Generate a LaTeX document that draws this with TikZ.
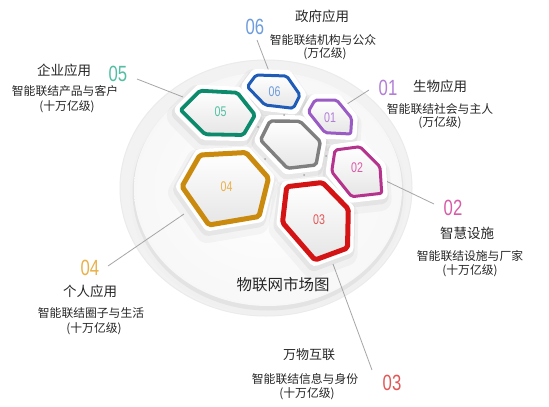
\documentclass[tikz,border=0pt]{standalone}
\usepackage{fontspec}
\setmainfont{Noto Sans CJK SC}
\newfontfamily\numfont[FakeStretch=0.76]{Liberation Sans}
\definecolor{cBlue}{HTML}{1F5CB8}
\definecolor{cTeal}{HTML}{0B8A6C}
\definecolor{cPurple}{HTML}{9A5BC4}
\definecolor{cMag}{HTML}{B5338C}
\definecolor{cGold}{HTML}{C98A0E}
\definecolor{cRed}{HTML}{D41414}
\definecolor{cGray}{HTML}{7F7F7F}
\definecolor{nBlue}{HTML}{6E9CDC}
\definecolor{nTeal}{HTML}{52BFA3}
\definecolor{nPurple}{HTML}{B27ED6}
\definecolor{nMag}{HTML}{D85CA6}
\definecolor{nGold}{HTML}{E9B14A}
\definecolor{nRed}{HTML}{E35656}
\def\hexA{(180.7,110) -- (200,90.7) -- (237.3,92.7) -- (255,115) -- (243.3,135) -- (205,134.3) -- cycle}
\def\hexB{(247.3,86.7) -- (256,75) -- (286.7,76) -- (300,95) -- (293.3,108.3) -- (265,105) -- cycle}
\def\hexC{(308.3,111.7) -- (315,100) -- (336.7,100) -- (351.7,118.3) -- (350.7,134) -- (325,132.7) -- cycle}
\def\hexD{(260.5,140) -- (270,121) -- (300,121.3) -- (320.3,141.5) -- (316,165) -- (287.5,168.3) -- cycle}
\def\hexE{(335,150) -- (360,146.7) -- (380,166.7) -- (381.7,193.3) -- (351.7,196.7) -- (331.7,171.7) -- cycle}
\def\hexF{(182,186.5) -- (200,155) -- (246,152.5) -- (268.5,178) -- (259,216.5) -- (209,225) -- cycle}
\def\hexG{(286.7,186.7) -- (322.5,182.5) -- (348.3,209) -- (347.5,248) -- (315,260) -- (282.5,222.5) -- cycle}
\newcommand\hshadow[1]{%
  \path[fill=black,draw=black,opacity=0.03,line width=24pt,line join=round,shift={(-2,6)}] #1;
  \path[fill=black,draw=black,opacity=0.05,line width=16pt,line join=round,shift={(-1,3)}] #1;}
\newcommand\hplate[1]{\path[fill=white,draw=white,line width=12pt,line join=round] #1;}
\newcommand\hcell[3]{\path[top color=white,bottom color=black!10,draw=#2,line width=#3,rounded corners=2pt,line join=round] #1;}
\tikzset{
  title/.style={font=\fontsize{13.5}{16}\selectfont,inner sep=0pt,text=black!85},
  sub/.style={font=\fontsize{11.8}{14}\selectfont,inner sep=0pt,text=black!85},
  bignum/.style={font=\numfont\fontsize{22}{24}\selectfont,inner sep=0pt},
  smallnum/.style={font=\numfont\fontsize{14}{16}\selectfont,inner sep=0pt},
  lead/.style={draw=black!35,line width=0.8pt},
  dot/.style={fill=black!35,circle,inner sep=0pt,minimum size=2pt}
}
\begin{document}
\begin{tikzpicture}[x=1pt,y=-1pt]
\useasboundingbox (0,0) rectangle (549,407);
\fill[white] (0,0) rectangle (549,407);
% disk
\path[fill=black!5,draw=black!8,line width=1pt] (266,188) ellipse [x radius=146,y radius=128];
\path[fill=black!6] (268,194) ellipse [x radius=138,y radius=121];
\path[fill=black!11] (268,192) ellipse [x radius=135.5,y radius=118.5];
\path[inner color=white,outer color=black!3] (268,189) ellipse [x radius=134,y radius=117];
% connector ends
\coordinate (l6a) at (257,40);  \coordinate (l6b) at (270,74);
\coordinate (l5a) at (137,79);  \coordinate (l5b) at (183,97);
\coordinate (l1a) at (369,90);  \coordinate (l1b) at (344,106);
\coordinate (l2a) at (386,181); \coordinate (l2b) at (434,204);
\coordinate (l4a) at (184,214); \coordinate (l4b) at (108,266);
\coordinate (l3a) at (333,264); \coordinate (l3b) at (372,370);
\draw[lead] (l6a) -- (l6b);
\draw[lead] (l5a) -- (l5b);
\draw[lead] (l1a) -- (l1b);
\draw[lead] (l2a) -- (l2b);
\draw[lead] (l4a) -- (l4b);
\draw[lead] (l3a) -- (l3b);
% hexagons
\hshadow{\hexA}\hshadow{\hexB}\hshadow{\hexC}\hshadow{\hexD}\hshadow{\hexE}\hshadow{\hexF}\hshadow{\hexG}
\hplate{\hexA}\hplate{\hexB}\hplate{\hexC}\hplate{\hexD}\hplate{\hexE}\hplate{\hexF}\hplate{\hexG}
\hcell{\hexA}{cTeal}{3.8pt}
\hcell{\hexB}{cBlue}{3pt}
\hcell{\hexC}{cPurple}{3pt}
\hcell{\hexD}{cGray}{3.4pt}
\hcell{\hexE}{cMag}{3pt}
\hcell{\hexF}{cGold}{5pt}
\hcell{\hexG}{cRed}{5pt}
% small dots
\node[dot] (d1) at (284,115) {};
\node[dot] (d2) at (258,127) {};
\node[dot] (d3) at (326,156) {};
\node[dot] (d4) at (265,159) {};
\node[dot] (d5) at (304,175) {};
% inner numbers
\node[smallnum,text=nTeal] (h5) at (220.5,112) {05};
\node[smallnum,text=nBlue] (h6) at (274.5,92) {06};
\node[smallnum,text=nPurple] (h1) at (330,117.5) {01};
\node[smallnum,text=nMag] (h2) at (357,167.5) {02};
\node[smallnum,text=nGold] (h4) at (226.5,187) {04};
\node[smallnum,text=nRed] (h3) at (319,220) {03};
% big numbers
\node[bignum,text=nBlue] (n6) at (255,27) {06};
\node[bignum,text=nTeal] (n5) at (118,74) {05};
\node[bignum,text=nPurple] (n1) at (388,88) {01};
\node[bignum,text=nMag] (n2) at (453,208) {02};
\node[bignum,text=nGold] (n4) at (90,268) {04};
\node[bignum,text=nRed] (n3) at (392,383) {03};
% texts
\node[title] (t6) at (322,16) {政府应用};
\node[sub] (s6) at (323,40) {智能联结机构与公众};
\node[sub] (u6) at (325,54) {(万亿级)};
\node[title] (t5) at (64,70) {企业应用};
\node[sub] (s5) at (65,91) {智能联结产品与客户};
\node[sub] (u5) at (67,107) {(十万亿级)};
\node[title] (t1) at (440,86) {生物应用};
\node[sub] (s1) at (440,109) {智能联结社会与主人};
\node[sub] (u1) at (440,123) {(万亿级)};
\node[title] (t2) at (467,233) {智慧设施};
\node[sub] (s2) at (470,256) {智能联结设施与厂家};
\node[sub] (u2) at (470,271) {(十万亿级)};
\node[title] (t4) at (90,291) {个人应用};
\node[sub] (s4) at (91,313) {智能联结圈子与生活};
\node[sub] (u4) at (94,329) {(十万亿级)};
\node[title,font=\fontsize{13}{15}\selectfont] (t3) at (309,355) {万物互联};
\node[sub] (s3) at (305,379) {智能联结信息与身份};
\node[sub] (u3) at (307,394) {(十万亿级)};
\node[title,font=\fontsize{15.5}{18}\selectfont] (main) at (283,285) {物联网市场图};
\end{tikzpicture}
\end{document}
